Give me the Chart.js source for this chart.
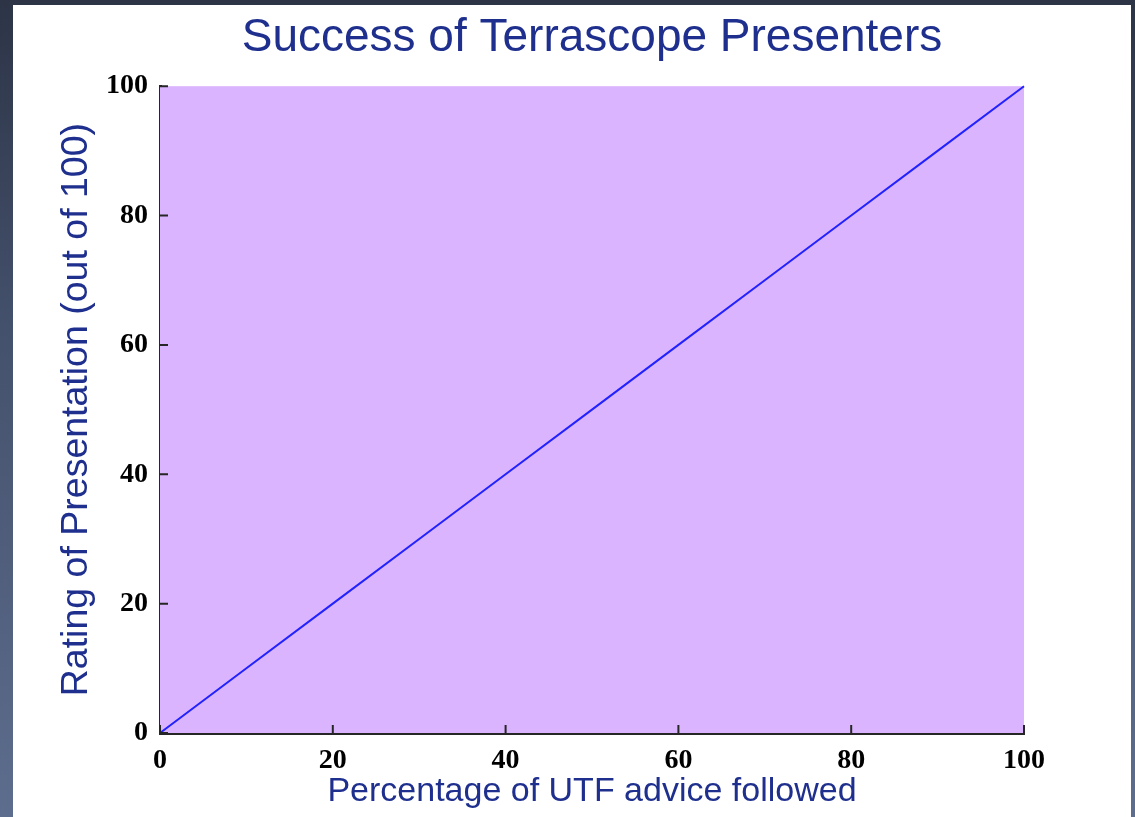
<!DOCTYPE html>
<html lang="en">

<head>
    <meta charset="UTF-8">
    <meta name="viewport" content="width=device-width, initial-scale=1.0">
    <script src="https://cdn.jsdelivr.net/npm/chart.js@4.4.1/dist/chart.umd.min.js"></script>
    <title>Success of Terrascope Presenters</title>
    <style>
        html, body { margin: 0; padding: 0; }
        body {
            width: 1135px;
            height: 817px;
            overflow: hidden;
            position: relative;
            background: linear-gradient(to bottom, #2c3446 0%, #44516c 40%, #5d6d8d 100%);
        }
        #panel {
            position: absolute;
            left: 13px;
            top: 5px;
            width: 1118px;
            height: 812px;
            background: #ffffff;
        }
        #myChart {
            position: absolute;
            left: 0;
            top: 0;
        }
    </style>
</head>

<body>
    <div id="panel"></div>
    <canvas id="myChart" width="1135" height="817"></canvas>

    <script>
        // values
        const adviceFollowed = [0, 10, 20, 30, 40, 50, 60, 70, 80, 90, 100];
        const rating = [0, 10, 20, 30, 40, 50, 60, 70, 80, 90, 100];
        const tickValues = [0, 20, 40, 60, 80, 100];

        const titleBlue = '#1e2f8e';
        const axisColor = '#262626';

        // purple plot background + inward tick marks
        const plotDeco = {
            id: 'plotDeco',
            beforeDatasetsDraw(chart) {
                const { ctx, chartArea } = chart;
                ctx.save();
                ctx.fillStyle = '#dab4fe';
                ctx.fillRect(chartArea.left, chartArea.top,
                    chartArea.right - chartArea.left, chartArea.bottom - chartArea.top);
                ctx.restore();
            },
            afterDraw(chart) {
                const { ctx, chartArea, scales } = chart;
                ctx.save();
                ctx.strokeStyle = axisColor;
                ctx.lineWidth = 2;
                ctx.beginPath();
                tickValues.forEach(v => {
                    const y = scales.y.getPixelForValue(v);
                    ctx.moveTo(chartArea.left, y);
                    ctx.lineTo(chartArea.left + 8, y);
                    const x = scales.x.getPixelForValue(v);
                    ctx.moveTo(x, chartArea.bottom);
                    ctx.lineTo(x, chartArea.bottom - 8);
                });
                ctx.stroke();
                ctx.restore();
            }
        };

        const ctx = document.getElementById('myChart').getContext('2d');

        const myChart = new Chart(ctx, {
            type: 'line',
            data: {
                datasets: [{
                    data: adviceFollowed.map((x, i) => ({ x: x, y: rating[i] })),
                    borderColor: '#2222ff',
                    borderWidth: 2,
                    pointRadius: 0,
                    fill: false,
                    tension: 0,
                    clip: false
                }]
            },
            options: {
                responsive: false,
                animation: false,
                layout: { padding: { top: 0, right: 111, bottom: 0, left: 0 } },
                plugins: {
                    legend: { display: false },
                    tooltip: { enabled: false },
                    title: {
                        display: true,
                        fullSize: false,
                        text: 'Success of Terrascope Presenters',
                        color: titleBlue,
                        font: { family: '"Liberation Sans", Arial, sans-serif', size: 46, weight: 'normal', lineHeight: 1.2 },
                        padding: { top: 11, bottom: 20 }
                    }
                },
                scales: {
                    x: {
                        type: 'linear',
                        min: 0,
                        max: 100,
                        afterFit(scale) { scale.height = 84; },
                        afterBuildTicks(scale) { scale.ticks = tickValues.map(v => ({ value: v })); },
                        grid: { display: false, drawTicks: false },
                        border: { display: true, color: axisColor, width: 3 },
                        ticks: {
                            color: '#000',
                            padding: 11,
                            maxRotation: 0,
                            font: { family: '"Liberation Serif", "Times New Roman", serif', size: 28, weight: 'bold' }
                        },
                        title: {
                            display: true,
                            text: 'Percentage of UTF advice followed',
                            color: titleBlue,
                            font: { family: '"Liberation Sans", Arial, sans-serif', size: 34, lineHeight: 1.2 },
                            padding: { top: 0, bottom: 5 }
                        }
                    },
                    y: {
                        type: 'linear',
                        min: 0,
                        max: 100,
                        afterFit(scale) { scale.width = 160; },
                        afterBuildTicks(scale) { scale.ticks = tickValues.map(v => ({ value: v })); },
                        grid: { display: false, drawTicks: false },
                        border: { display: true, color: axisColor, width: 3 },
                        ticks: {
                            color: '#000',
                            padding: 12,
                            font: { family: '"Liberation Serif", "Times New Roman", serif', size: 28, weight: 'bold' }
                        },
                        title: {
                            display: true,
                            text: 'Rating of Presentation (out of 100)',
                            color: titleBlue,
                            font: { family: '"Liberation Sans", Arial, sans-serif', size: 37.5, lineHeight: 1.2 },
                            padding: { top: 54, bottom: 0 }
                        }
                    }
                }
            },
            plugins: [plotDeco]
        });
    </script>

</body>

</html>
